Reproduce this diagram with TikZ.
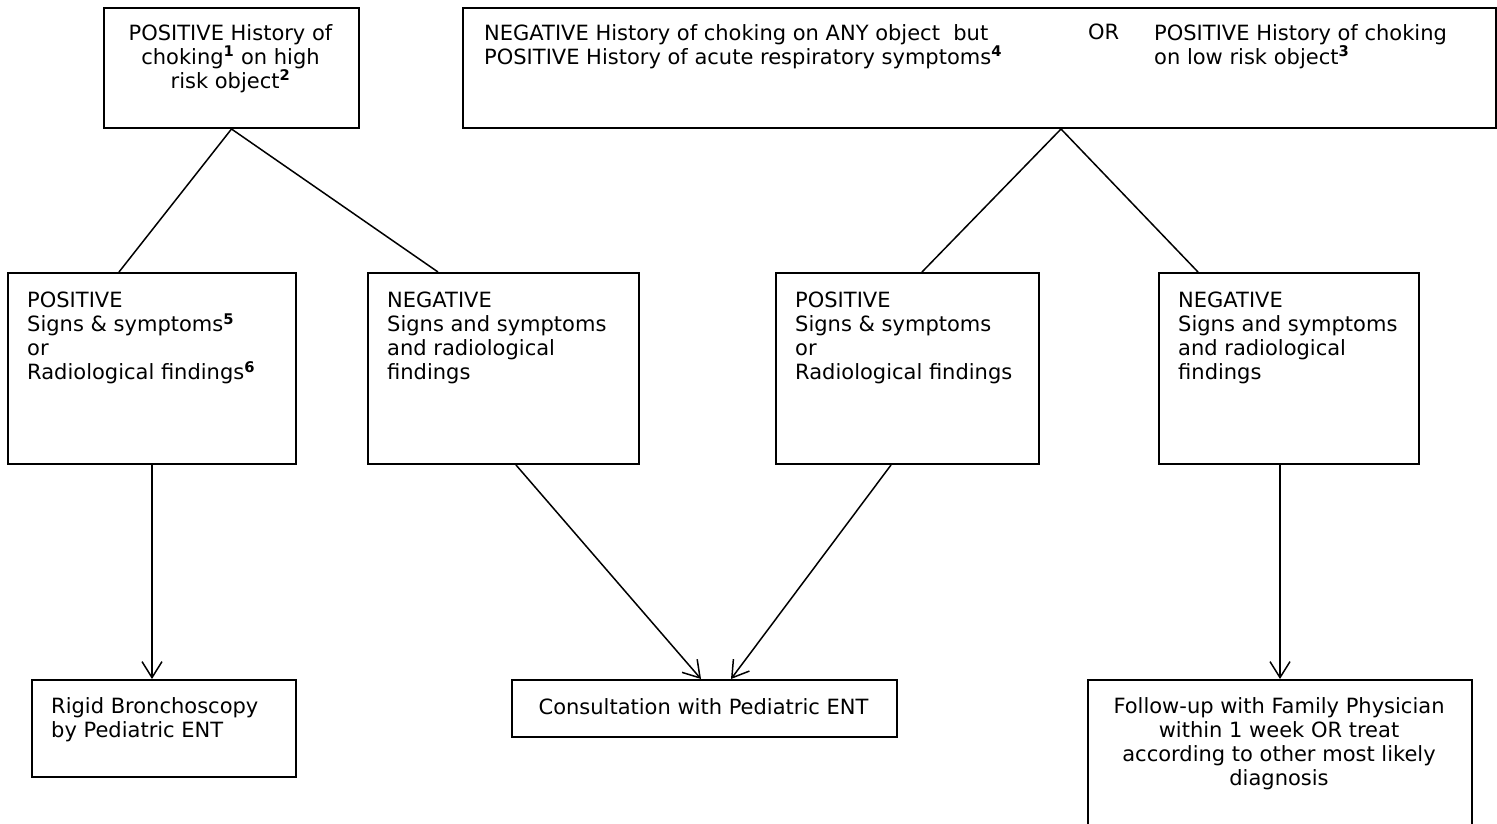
\documentclass[tikz,border=0pt]{standalone}
\usepackage{fontspec}
\setmainfont{DejaVu Sans}
\usetikzlibrary{arrows.meta,calc}
\newcommand{\supn}[1]{\textsuperscript{\textbf{#1}}}
\begin{document}
\begin{tikzpicture}[x=1pt,y=-1pt,
  box/.style={draw, line width=2pt, inner sep=0pt, anchor=north west},
  txt/.style={inner sep=0pt, align=left, anchor=north west, font=\fontsize{21}{24}\selectfont},
  ctxt/.style={inner sep=0pt, align=center, anchor=north, font=\fontsize{21}{24}\selectfont},
  link/.style={line width=1.5pt},
  arr/.style={line width=1.5pt, -{Straight Barb[length=16pt,width=20pt,line width=1.5pt]}}
]
\useasboundingbox (0,0) rectangle (1497,823);
% boxes
\node[box, minimum width=255pt, minimum height=120pt] (A) at (103,7) {};
\node[box, minimum width=1033pt, minimum height=120pt] (B) at (462,7) {};
\node[box, minimum width=288pt, minimum height=191pt] (C) at (7,272) {};
\node[box, minimum width=271pt, minimum height=191pt] (D) at (367,272) {};
\node[box, minimum width=263pt, minimum height=191pt] (E) at (775,272) {};
\node[box, minimum width=260pt, minimum height=191pt] (F) at (1158,272) {};
\node[box, minimum width=264pt, minimum height=97pt] (G) at (31,679) {};
\node[box, minimum width=385pt, minimum height=57pt] (H) at (511,679) {};
\node[box, minimum width=384pt, minimum height=150pt] (I) at (1087,679) {};
% texts
\node[ctxt] (At) at (230.5,24) {POSITIVE History of\\choking\supn{1} on high\\risk object\supn{2}};
\node[txt] (Bt1) at (484,24) {NEGATIVE History of choking on ANY object\ \ but\\POSITIVE History of acute respiratory symptoms\supn{4}};
\node[txt] (Bt2) at (1088,24) {OR};
\node[txt] (Bt3) at (1154,24) {POSITIVE History of choking\\on low risk object\supn{3}};
\node[txt] (Ct) at (27,292) {POSITIVE\\Signs \& symptoms\supn{5}\\or\\Radiological findings\supn{6}};
\node[txt] (Dt) at (387,292) {NEGATIVE\\Signs and symptoms\\and radiological\\findings};
\node[txt] (Et) at (795,292) {POSITIVE\\Signs \& symptoms\\or\\Radiological findings};
\node[txt] (Ft) at (1178,292) {NEGATIVE\\Signs and symptoms\\and radiological\\findings};
\node[txt] (Gt) at (51,697) {Rigid Bronchoscopy\\by Pediatric ENT};
\node[ctxt] (Ht) at (703.5,698) {Consultation with Pediatric ENT};
\node[ctxt] (It) at (1279,697) {Follow-up with Family Physician\\within 1 week OR treat\\according to other most likely\\diagnosis};
% connectors
\draw[link] (A.south) -- ([xshift=-33pt]C.north);
\draw[link] (A.south) -- ([xshift=-65.5pt]D.north);
\draw[link] ([xshift=81.5pt]B.south) -- ([xshift=14.5pt]E.north);
\draw[link] ([xshift=81.5pt]B.south) -- ([xshift=-91pt]F.north);
\draw[arr] (C.south) -- (C.south |- G.north);
\draw[arr] ([xshift=12.5pt]D.south) -- ([xshift=-3.5pt]H.north);
\draw[arr] ([xshift=-16.5pt]E.south) -- ([xshift=26.5pt]H.north);
\draw[arr] (F.south -| I.north) -- (I.north);
\end{tikzpicture}
\end{document}
